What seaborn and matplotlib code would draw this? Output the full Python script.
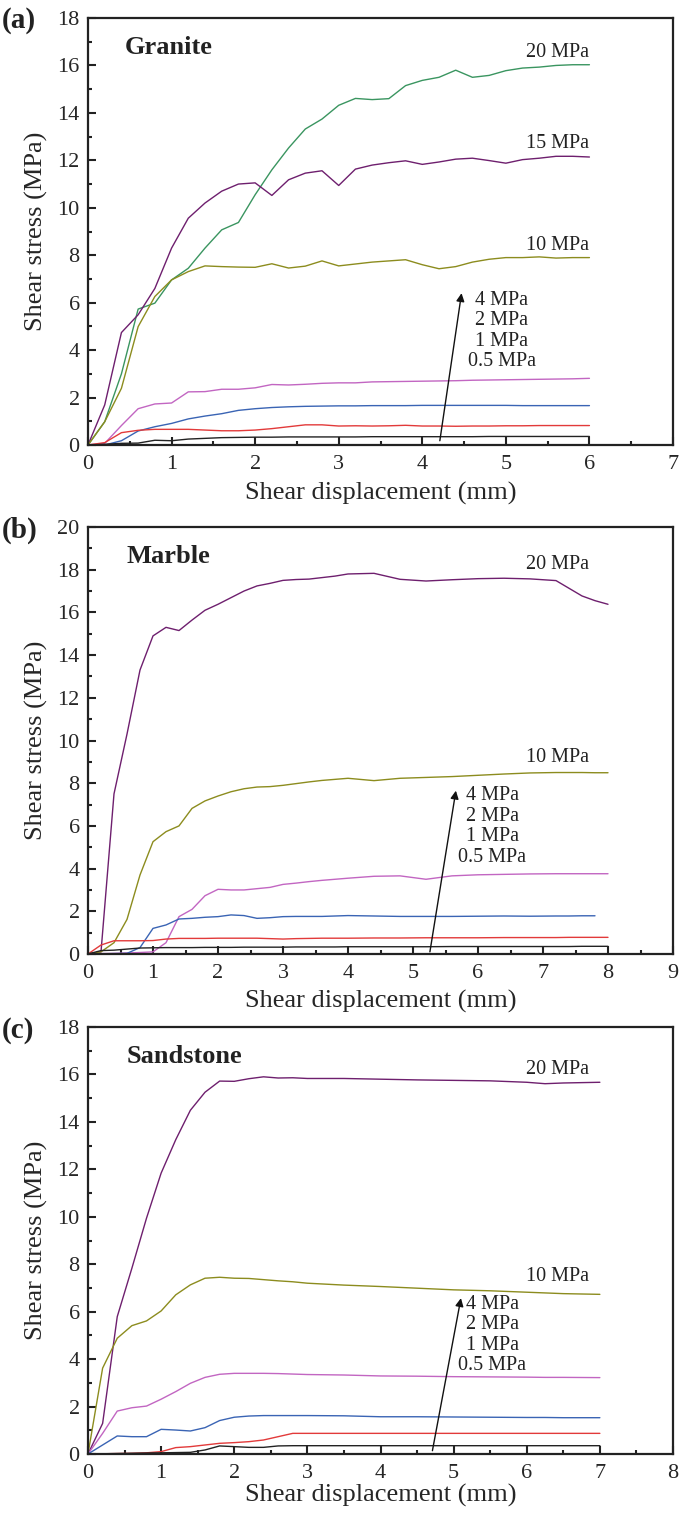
import numpy as np
import pandas as pd
import matplotlib
matplotlib.use("Agg")
import matplotlib.pyplot as plt
import seaborn as sns

# ---------------- data ----------------
LOADS = ["20 MPa", "15 MPa", "10 MPa", "4 MPa", "2 MPa", "1 MPa", "0.5 MPa"]

granite_x = [0, 0.2, 0.4, 0.6, 0.8, 1.0, 1.2, 1.4, 1.6, 1.8, 2.0, 2.2, 2.4, 2.6, 2.8, 3.0,
             3.2, 3.4, 3.6, 3.8, 4.0, 4.2, 4.4, 4.6, 4.8, 5.0, 5.2, 5.4, 5.6, 5.8, 6.0]
granite_20 = [0, 0.98, 3.0, 5.73, 5.98, 6.96, 7.45, 8.3, 9.07, 9.38, 10.55, 11.6, 12.52, 13.32,
              13.74, 14.32, 14.61, 14.56, 14.6, 15.15, 15.37, 15.5, 15.8, 15.5, 15.58, 15.78,
              15.89, 15.93, 16.0, 16.03, 16.03]
granite_15 = [0, 1.69, 4.74, 5.49, 6.6, 8.3, 9.56, 10.2, 10.7, 11.0, 11.05, 10.52, 11.18, 11.46,
              11.56, 10.94, 11.63, 11.8, 11.9, 11.98, 11.83, 11.93, 12.05, 12.09, 11.99, 11.88,
              12.03, 12.09, 12.17, 12.17, 12.14]
granite_10 = [0, 0.98, 2.39, 4.99, 6.26, 6.96, 7.31, 7.55, 7.52, 7.5, 7.49, 7.64, 7.46, 7.54,
              7.76, 7.55, 7.63, 7.71, 7.76, 7.81, 7.6, 7.43, 7.52, 7.71, 7.83, 7.9, 7.9, 7.93,
              7.88, 7.9, 7.9]
granite_4 = [0, 0.07, 0.82, 1.53, 1.73, 1.77, 2.24, 2.25, 2.35, 2.35, 2.41, 2.55, 2.53, 2.56,
             2.6, 2.62, 2.62, 2.66, 2.67, 2.68, 2.69, 2.7, 2.71, 2.73, 2.74, 2.75, 2.76, 2.77,
             2.78, 2.79, 2.81]
granite_2 = [0, 0.0, 0.18, 0.59, 0.77, 0.91, 1.1, 1.22, 1.32, 1.46, 1.53, 1.58, 1.61, 1.63,
             1.64, 1.65, 1.65, 1.66, 1.66, 1.66, 1.67, 1.67, 1.67, 1.67, 1.67, 1.67, 1.66, 1.66,
             1.66, 1.66, 1.66]
granite_1 = [0, 0.1, 0.52, 0.62, 0.66, 0.66, 0.66, 0.63, 0.6, 0.6, 0.63, 0.69, 0.77, 0.85,
             0.85, 0.8, 0.81, 0.8, 0.81, 0.83, 0.8, 0.8, 0.79, 0.8, 0.8, 0.81, 0.81, 0.82, 0.82,
             0.82, 0.82]
granite_05 = [0, 0.03, 0.07, 0.08, 0.2, 0.18, 0.25, 0.28, 0.31, 0.32, 0.33, 0.33, 0.34, 0.34,
              0.34, 0.34, 0.34, 0.35, 0.35, 0.35, 0.35, 0.35, 0.35, 0.35, 0.36, 0.36, 0.36, 0.36,
              0.36, 0.36, 0.36]

marble_x = [0, 0.2, 0.4, 0.6, 0.8, 1.0, 1.2, 1.4, 1.6, 1.8, 2.0, 2.2, 2.4, 2.6, 2.8, 3.0, 3.2,
            3.4, 3.6, 3.8, 4.0, 4.4, 4.8, 5.2, 5.6, 6.0, 6.4, 6.8, 7.2, 7.4, 7.6, 7.8, 8.0]
marble_20 = [0, 0.1, 7.5, 10.3, 13.3, 14.9, 15.3, 15.15, 15.64, 16.1, 16.38, 16.69, 17.0, 17.24,
             17.36, 17.5, 17.54, 17.56, 17.63, 17.7, 17.8, 17.83, 17.55, 17.47, 17.53, 17.58,
             17.6, 17.57, 17.49, 17.13, 16.77, 16.55, 16.38]
marble_10 = [0, 0.1, 0.53, 1.62, 3.7, 5.26, 5.73, 6.0, 6.82, 7.17, 7.4, 7.6, 7.74, 7.82, 7.84,
             7.9, 7.98, 8.06, 8.13, 8.18, 8.23, 8.12, 8.23, 8.27, 8.31, 8.37, 8.43, 8.48, 8.5,
             8.5, 8.5, 8.49, 8.49]
marble_4 = [0, 0.02, 0.03, 0.05, 0.07, 0.1, 0.53, 1.75, 2.09, 2.73, 3.03, 3.0, 3.0, 3.06, 3.12,
            3.26, 3.32, 3.39, 3.45, 3.5, 3.55, 3.64, 3.66, 3.5, 3.66, 3.71, 3.73, 3.75, 3.76,
            3.76, 3.76, 3.76, 3.76]
marble_2 = [0, 0.01, 0.02, 0.03, 0.3, 1.2, 1.36, 1.64, 1.67, 1.72, 1.75, 1.83, 1.8, 1.67, 1.7,
            1.75, 1.76, 1.76, 1.76, 1.78, 1.8, 1.78, 1.76, 1.76, 1.76, 1.77, 1.78, 1.77, 1.78,
            1.78, 1.79, 1.79, np.nan]
marble_1 = [0, 0.42, 0.62, 0.62, 0.62, 0.63, 0.7, 0.73, 0.73, 0.73, 0.74, 0.74, 0.74, 0.74,
            0.72, 0.7, 0.72, 0.73, 0.74, 0.74, 0.74, 0.75, 0.75, 0.76, 0.76, 0.76, 0.77, 0.77,
            0.77, 0.78, 0.78, 0.78, 0.78]
marble_05 = [0, 0.16, 0.18, 0.23, 0.28, 0.29, 0.3, 0.3, 0.3, 0.31, 0.31, 0.31, 0.32, 0.32, 0.32,
             0.32, 0.33, 0.33, 0.33, 0.33, 0.34, 0.34, 0.34, 0.34, 0.35, 0.35, 0.35, 0.35, 0.35,
             0.35, 0.36, 0.36, 0.36]

sand_x = [0, 0.2, 0.4, 0.6, 0.8, 1.0, 1.2, 1.4, 1.6, 1.8, 2.0, 2.2, 2.4, 2.6, 2.8, 3.0, 3.5,
          4.0, 4.5, 5.0, 5.5, 6.0, 6.25, 6.5, 7.0]
sand_20 = [0, 1.29, 5.79, 7.83, 9.94, 11.84, 13.25, 14.49, 15.25, 15.72, 15.71, 15.82, 15.9,
           15.85, 15.86, 15.83, 15.83, 15.8, 15.77, 15.75, 15.73, 15.67, 15.61, 15.64, 15.67]
sand_10 = [0, 3.62, 4.88, 5.41, 5.61, 6.03, 6.71, 7.13, 7.41, 7.45, 7.41, 7.4, 7.35, 7.3, 7.26,
           7.2, 7.12, 7.06, 6.99, 6.92, 6.88, 6.82, 6.79, 6.76, 6.73]
sand_4 = [0, 0.87, 1.81, 1.95, 2.02, 2.31, 2.63, 2.98, 3.23, 3.36, 3.4, 3.4, 3.4, 3.39, 3.37,
          3.35, 3.33, 3.29, 3.28, 3.26, 3.25, 3.24, 3.23, 3.23, 3.22]
sand_2 = [0, 0.38, 0.76, 0.73, 0.73, 1.04, 1.01, 0.97, 1.11, 1.41, 1.55, 1.6, 1.62, 1.62, 1.62,
          1.62, 1.61, 1.57, 1.57, 1.56, 1.55, 1.54, 1.54, 1.53, 1.53]
sand_1 = [0, 0.01, 0.02, 0.03, 0.05, 0.1, 0.27, 0.31, 0.38, 0.45, 0.48, 0.52, 0.59, 0.73, 0.87,
          0.87, 0.87, 0.87, 0.87, 0.87, 0.87, 0.87, 0.87, 0.87, 0.87]
sand_05 = [0, 0.01, 0.02, 0.03, 0.04, 0.05, 0.06, 0.07, 0.17, 0.34, 0.31, 0.28, 0.28, 0.34,
           0.35, 0.35, 0.35, 0.35, 0.35, 0.35, 0.35, 0.35, 0.35, 0.35, 0.35]

COLORS = {"20 MPa": "#3a9560", "15 MPa": "#6e1f6e", "10 MPa": "#8c8c1e", "4 MPa": "#c266c2",
          "2 MPa": "#3a64b4", "1 MPa": "#e23a3a", "0.5 MPa": "#222222"}


def long_frame(x, series):
    rows = []
    for load, vals in series.items():
        rows.append(pd.DataFrame({"disp": x, "stress": vals, "load": load}))
    return pd.concat(rows, ignore_index=True)


panels = [
    dict(tag="(a)", name="Granite", x=granite_x,
         series={"20 MPa": granite_20, "15 MPa": granite_15, "10 MPa": granite_10,
                 "4 MPa": granite_4, "2 MPa": granite_2, "1 MPa": granite_1, "0.5 MPa": granite_05},
         xmax=7, ymax=18, xticks=np.arange(0, 8, 1), yticks=np.arange(0, 19, 2),
         pal={"20 MPa": COLORS["20 MPa"]},
         labels=[("20 MPa", 6.0, 16.55), ("15 MPa", 6.0, 12.7), ("10 MPa", 6.0, 8.4)],
         stack=(4.95, 4.8), arrow=((4.21, 0.18), (4.47, 6.4)),
         top_px=18, bot_px=445, xpad=6),
    dict(tag="(b)", name="Marble", x=marble_x,
         series={"20 MPa": marble_20, "10 MPa": marble_10, "4 MPa": marble_4,
                 "2 MPa": marble_2, "1 MPa": marble_1, "0.5 MPa": marble_05},
         xmax=9, ymax=20, xticks=np.arange(0, 10, 1), yticks=np.arange(0, 21, 2),
         pal={"20 MPa": COLORS["15 MPa"]},
         labels=[("20 MPa", 7.7, 18.25), ("10 MPa", 7.7, 9.21)],
         stack=(6.22, 5.97), arrow=((5.26, 0.1), (5.66, 7.65)),
         top_px=527, bot_px=954, xpad=5),
    dict(tag="(c)", name="Sandstone", x=sand_x,
         series={"20 MPa": sand_20, "10 MPa": sand_10, "4 MPa": sand_4,
                 "2 MPa": sand_2, "1 MPa": sand_1, "0.5 MPa": sand_05},
         xmax=8, ymax=18, xticks=np.arange(0, 9, 1), yticks=np.arange(0, 19, 2),
         pal={"20 MPa": COLORS["15 MPa"]},
         labels=[("20 MPa", 6.85, 16.2), ("10 MPa", 6.85, 7.48)],
         stack=(5.53, 5.02), arrow=((4.71, 0.14), (5.1, 6.57)),
         top_px=1027, bot_px=1454, xpad=1),
]

sns.set_style("ticks")
plt.rcParams["font.family"] = ["Liberation Serif", "DejaVu Serif"]

W, H = 685, 1513
fig = plt.figure(figsize=(W / 100, H / 100), dpi=100)

for p in panels:
    ax = fig.add_axes([88 / W, 1 - p["bot_px"] / H, 585 / W, (p["bot_px"] - p["top_px"]) / H])
    df = long_frame(p["x"], p["series"])
    pal = {k: COLORS[k] for k in p["series"]}
    pal.update(p["pal"])
    sns.lineplot(data=df, x="disp", y="stress", hue="load", palette=pal,
                 estimator=None, sort=False, legend=False, lw=1.0, ax=ax)

    ax.set_xlim(0, p["xmax"])
    ax.set_ylim(0, p["ymax"])
    ax.set_xticks(p["xticks"])
    ax.set_yticks(p["yticks"])
    ax.xaxis.set_minor_locator(matplotlib.ticker.MultipleLocator(0.5))
    ax.yaxis.set_minor_locator(matplotlib.ticker.MultipleLocator(1))
    ax.tick_params(which="both", direction="in", top=False, right=False, width=1.5,
                   labelsize=16, color="#222222")
    ax.tick_params(which="major", length=6)
    ax.tick_params(which="minor", length=3)
    ax.tick_params(axis="x", pad=7)
    ax.tick_params(axis="y", pad=6)
    for s in ax.spines.values():
        s.set_linewidth(1.6)
        s.set_color("#222222")
    ax.set_xlabel("Shear displacement (mm)", fontsize=19, labelpad=p["xpad"])
    ax.set_ylabel("Shear stress (MPa)", fontsize=19, labelpad=7)

    ax.text(0.063 if p["name"] == "Granite" else 0.066, 0.93, p["name"], transform=ax.transAxes,
            fontsize=19, fontweight="bold", va="center", ha="left", color="#222222")
    for txt, lx, ly in p["labels"]:
        ax.text(lx, ly, txt, fontsize=14.5, ha="right", va="center", color="#222222")
    sx, sy = p["stack"]
    ax.text(sx, sy, "4 MPa\n2 MPa\n1 MPa\n0.5 MPa", fontsize=14.5, ha="center", va="center",
            linespacing=1.1, color="#222222")
    (tx, ty), (hx, hy) = p["arrow"]
    ax.annotate("", xy=(hx, hy), xytext=(tx, ty),
                arrowprops=dict(arrowstyle="-|>", color="#111111", lw=1.0, mutation_scale=12,
                                shrinkA=0, shrinkB=0))

    fig.text(0.003, 1 - (p["top_px"] + 3) / H, p["tag"], fontsize=21, fontweight="bold",
             ha="left", va="center", color="#222222")

fig.savefig("out.png", dpi=100)
